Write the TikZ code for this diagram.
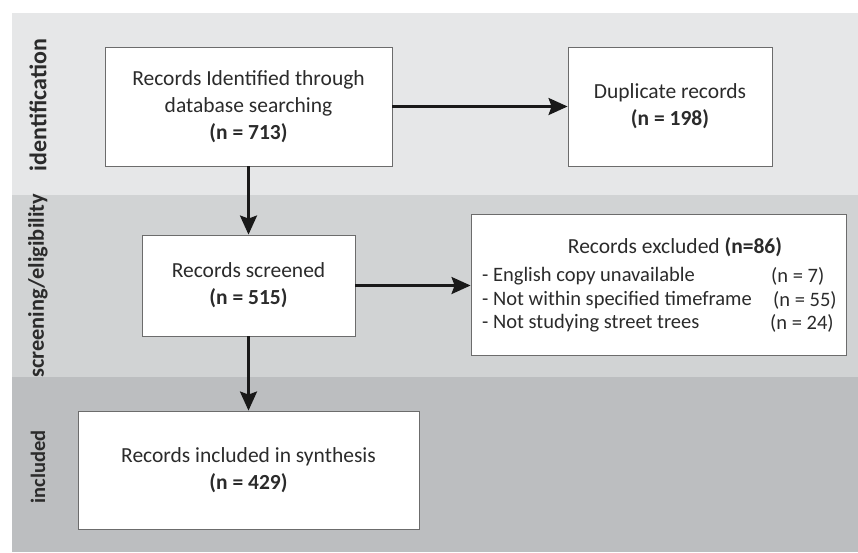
\documentclass[tikz,border=0pt]{standalone}
\usepackage{fontspec}
\setmainfont{Carlito}
\usepackage{tikz}
\usetikzlibrary{arrows.meta,calc,positioning}

\definecolor{bandA}{HTML}{E6E7E8}
\definecolor{bandB}{HTML}{D1D3D4}
\definecolor{bandC}{HTML}{BCBEC0}
\definecolor{ink}{HTML}{2B2B2B}

\begin{document}
\begin{tikzpicture}[
    x=1pt,
    y=-1pt,
    >={Stealth[length=19pt, width=17pt, inset=3pt]},
    box/.style={draw=gray!85!black, fill=white, line width=0.9pt, align=center, inner sep=2pt, text=ink, font=\fontsize{21.5}{27}\selectfont},
    phase/.style={rotate=90, text=ink},
    item/.style={anchor=west, inner sep=0pt, text=ink, font=\fontsize{20.5}{24}\selectfont},
    line/.style={->, line width=2.6pt, draw=black!90}
]
\useasboundingbox (0,0) rectangle (858,552);
% phase bands
\fill[bandA] (12,13) rectangle (858,195);
\fill[bandB] (12,195) rectangle (858,377);
\fill[bandC] (12,377) rectangle (858,552);
\node[phase, font=\fontsize{24}{28}\selectfont\bfseries] (pident) at (38,105) {identification};
\node[phase, font=\fontsize{22.4}{26}\selectfont\bfseries] (pscreen) at (38,286) {screening/eligibility};
\node[phase, font=\fontsize{20.5}{24}\selectfont\bfseries] (pincl) at (38,467) {included};

\node[box, minimum width=287pt, minimum height=119pt] (ident) at (248.5,106.5) {Records Identified through\\database searching\\\textbf{(n = 713)}};
\node[box, minimum width=204pt, minimum height=119pt] (dup) at (670,106.5) {Duplicate records\\\textbf{(n = 198)}};
\node[box, minimum width=213pt, minimum height=101pt] (screen) at (248.5,285.5) {Records screened\\\textbf{(n = 515)}};
\node[box, minimum width=375pt, minimum height=141pt] (excl) at (658.5,284.5) {};
\node[box, minimum width=341pt, minimum height=118pt] (incl) at (248.5,470) {Records included in synthesis\\\textbf{(n = 429)}};

% exclusion reasons
\node[item, anchor=center, font=\fontsize{21.5}{24}\selectfont] (extitle) at (675,247) {Records excluded \textbf{(n=86)}};
\node[item] (exa) at (482,276) {- English copy unavailable};
\node[item] (exb) at (482,300) {- Not within specified timeframe};
\node[item] (exc) at (482,323) {- Not studying street trees};
\node[item] (exan) at (771,276) {(n = 7)};
\node[item] (exbn) at (773,300) {(n = 55)};
\node[item] (excn) at (770,323) {(n = 24)};

\draw[line] (ident.south) -- (screen.north);
\draw[line] (ident.east) -- (dup.west);
\draw[line] (screen.east) -- (screen.east -| excl.west);
\draw[line] (screen.south) -- (incl.north);
\end{tikzpicture}
\end{document}
